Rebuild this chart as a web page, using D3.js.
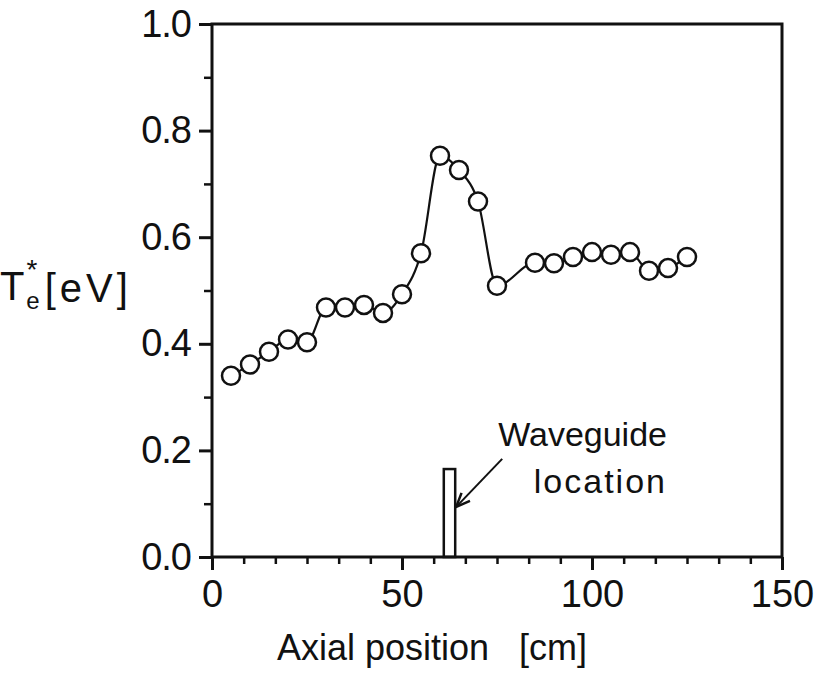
<!DOCTYPE html>
<html>
<head>
<meta charset="utf-8">
<script src="https://cdn.jsdelivr.net/npm/d3@7"></script>
<style>
  body { margin: 0; background: #fff; }
  svg text { font-family: "Liberation Sans", "DejaVu Sans", sans-serif; fill: #111; }
  .axis path, .axis line { stroke: #111; }
</style>
</head>
<body>
<div id="chart"></div>
<script>
// axial position (cm) and Te* (eV)
const positions = [5, 10, 15, 20, 25, 30, 35, 40, 45, 50, 55, 60, 65, 70, 75, 85, 90, 95, 100, 105, 110, 115, 120, 125];
const temps = [0.34, 0.361, 0.385, 0.408, 0.403, 0.468, 0.468, 0.473, 0.458, 0.493, 0.570, 0.753, 0.726, 0.667, 0.509, 0.552, 0.551, 0.563, 0.572, 0.567, 0.572, 0.537, 0.542, 0.563];

const xTicks = [0, 50, 100, 150];
const yTicks = [0, 0.2, 0.4, 0.6, 0.8, 1.0];

// waveguide block
const waveguide = { from: 61, to: 64, height: 0.165 };

const width = 818, height = 686;
const margin = { top: 24, right: 36, bottom: 129, left: 212 };

const svg = d3.select("#chart").append("svg")
  .attr("width", width)
  .attr("height", height);

const x = d3.scaleLinear().domain([0, 150]).range([margin.left, width - margin.right]);
const y = d3.scaleLinear().domain([0, 1]).range([height - margin.bottom, margin.top]);

// minor ticks first so the axes sit on top
const xMinor = d3.range(0, 151, 50 / 6).filter(v => !xTicks.some(t => Math.abs(t - v) < 0.01));
const yMinor = d3.range(0.1, 1, 0.2);

svg.append("g")
  .attr("class", "axis")
  .attr("transform", `translate(0,${y(0)})`)
  .call(d3.axisBottom(x).tickValues(xMinor).tickSize(7).tickFormat(""))
  .call(g => g.select(".domain").remove())
  .selectAll("line").attr("stroke-width", 2.5);

svg.append("g")
  .attr("class", "axis")
  .attr("transform", `translate(${x(0)},0)`)
  .call(d3.axisLeft(y).tickValues(yMinor).tickSize(8).tickFormat(""))
  .call(g => g.select(".domain").remove())
  .selectAll("line").attr("stroke-width", 2.5);

// frame
svg.append("rect")
  .attr("x", x(0))
  .attr("y", y(1))
  .attr("width", x(150) - x(0))
  .attr("height", y(0) - y(1))
  .attr("fill", "none")
  .attr("stroke", "#111")
  .attr("stroke-width", 3);

const xAxis = svg.append("g")
  .attr("class", "axis")
  .attr("transform", `translate(0,${y(0)})`)
  .call(d3.axisBottom(x).tickValues(xTicks).tickSize(13).tickPadding(10).tickFormat(d3.format("d")));
xAxis.select(".domain").remove();
xAxis.selectAll("line").attr("stroke-width", 3);
xAxis.selectAll("text").style("font-size", "38px").attr("fill", "#111");

const yAxis = svg.append("g")
  .attr("class", "axis")
  .attr("transform", `translate(${x(0)},0)`)
  .call(d3.axisLeft(y).tickValues(yTicks).tickSize(13).tickPadding(8).tickFormat(d3.format(".1f")));
yAxis.select(".domain").remove();
yAxis.selectAll("line").attr("stroke-width", 3);
yAxis.selectAll("text").style("font-size", "38px").style("letter-spacing", "-1px").attr("fill", "#111");

// waveguide rectangle
svg.append("rect")
  .attr("x", x(waveguide.from))
  .attr("y", y(waveguide.height))
  .attr("width", x(waveguide.to) - x(waveguide.from))
  .attr("height", y(0) - y(waveguide.height))
  .attr("fill", "none")
  .attr("stroke", "#111")
  .attr("stroke-width", 2.5);

// arrow to the waveguide
const tip = [x(waveguide.to) + 1, y(waveguide.height * 0.57)];
const tail = [tip[0] + 46, tip[1] - 48];
svg.append("line")
  .attr("x1", tail[0]).attr("y1", tail[1])
  .attr("x2", tip[0]).attr("y2", tip[1])
  .attr("stroke", "#111").attr("stroke-width", 2);
const ang = Math.atan2(tail[1] - tip[1], tail[0] - tip[0]);
const head = [ang - 0.4, ang + 0.4].map(a => [tip[0] + 15 * Math.cos(a), tip[1] + 15 * Math.sin(a)]);
svg.append("path")
  .attr("d", `M${head[0]}L${tip}L${head[1]}`)
  .attr("fill", "none")
  .attr("stroke", "#111")
  .attr("stroke-width", 2.5);

svg.append("text")
  .attr("x", 667).attr("y", 446)
  .attr("text-anchor", "end")
  .style("font-size", "34px")
  .text("Waveguide");
svg.append("text")
  .attr("x", 667).attr("y", 493)
  .attr("text-anchor", "end")
  .style("font-size", "34px")
  .style("letter-spacing", "2px")
  .text("location");

// data line + circles
const pts = positions.map((p, i) => [p, temps[i]]);
const line = d3.line()
  .x(d => x(d[0]))
  .y(d => y(d[1]))
  .curve(d3.curveMonotoneX);

svg.append("path")
  .datum(pts)
  .attr("d", line)
  .attr("fill", "none")
  .attr("stroke", "#111")
  .attr("stroke-width", 2.2);

svg.selectAll("circle.pt")
  .data(pts)
  .enter()
  .append("circle")
  .attr("class", "pt")
  .attr("cx", d => x(d[0]))
  .attr("cy", d => y(d[1]))
  .attr("r", 9)
  .attr("fill", "#fff")
  .attr("stroke", "#111")
  .attr("stroke-width", 2.5);

// axis titles
svg.append("text")
  .attr("x", (x(0) + x(150)) / 2 - 65)
  .attr("y", 660)
  .attr("text-anchor", "middle")
  .style("font-size", "36px")
  .attr("xml:space", "preserve")
  .text("Axial position   [cm]");

// y title: T with a starred superscript and subscript e, then the unit
const yt = svg.append("text").attr("x", 0).attr("y", 300).style("font-size", "40px");
yt.append("tspan").text("T");
yt.append("tspan").attr("dx", 2).attr("dy", -21).style("font-size", "28px").text("*");
yt.append("tspan").attr("dx", -11).attr("dy", 30).style("font-size", "24px").text("e");
yt.append("tspan").attr("dx", 5).attr("dy", -7).style("letter-spacing", "4px").text("[eV]");
</script>
</body>
</html>
